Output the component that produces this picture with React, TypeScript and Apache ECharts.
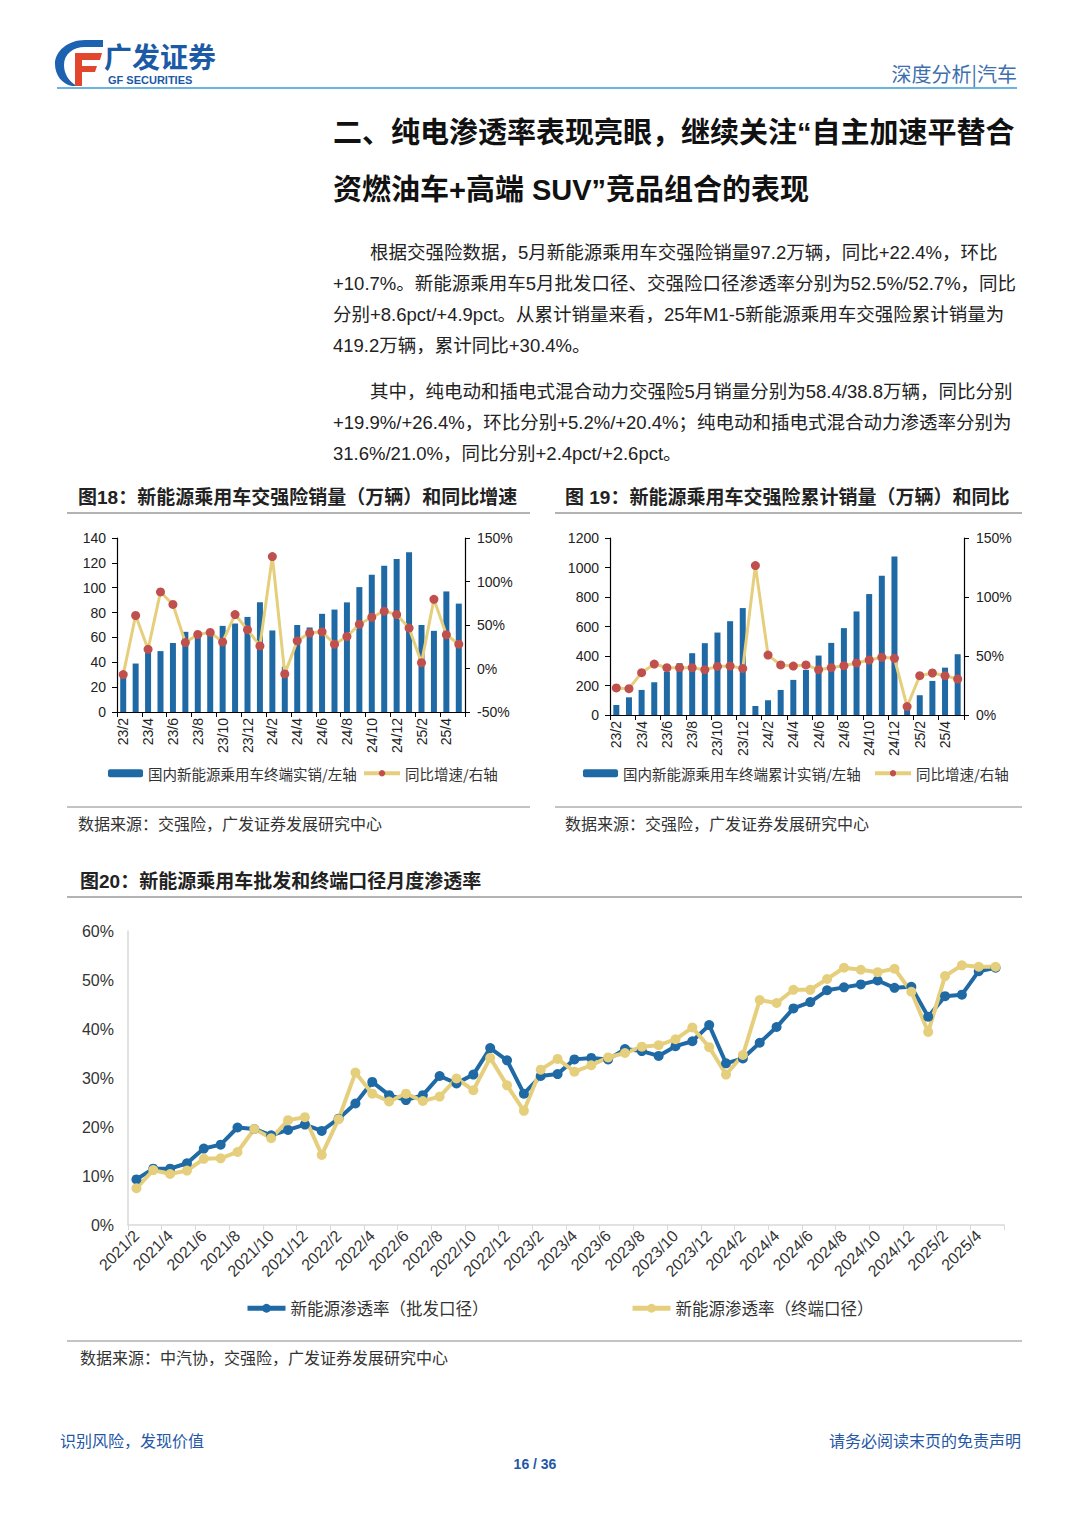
import React, { useEffect, useRef } from "react";
import * as echarts from "echarts";

// ---------- data ----------
const months18 = ["23/2","23/3","23/4","23/5","23/6","23/7","23/8","23/9","23/10","23/11","23/12","24/1","24/2","24/3","24/4","24/5","24/6","24/7","24/8","24/9","24/10","24/11","24/12","25/1","25/2","25/3","25/4","25/5"];
const sales18 = [30,39,48,49,55.5,64.5,62,63,69.3,71.2,76.5,88.3,65.6,36.5,70,68,79,82.4,88.2,100.5,110.4,117.6,123.2,128.5,70,65.3,97,87.2];
const yoy18 = [-7,60.9,22.1,88,73.6,29.8,39.1,41.5,30.6,62,44.6,26,128.7,-6.2,31.8,40.7,42.2,27.9,36.8,50.8,58.9,65.9,62,46.5,6.6,79.5,38.8,27.9];

const months19 = ["23/2","23/3","23/4","23/5","23/6","23/7","23/8","23/9","23/10","23/11","23/12","24/1","24/2","24/3","24/4","24/5","24/6","24/7","24/8","24/9","24/10","24/11","24/12","25/1","25/2","25/3","25/4","25/5"];
const cum19 = [68,120,170,222,294,351,419,487,559,636,725,61,100,170,238,306,403,489,589,702,820,944,1075,64,134,231,321,412];
const cumYoy19 = [22.9,22.3,35.9,43.2,40.1,40.1,40.1,38.4,41.2,41.5,39.5,126.6,50.8,42.4,41.5,42.4,38.4,40.1,41.8,44.1,46.6,48.9,48,7.1,33.3,35.6,33.3,30.5];

const months20 = ["2021/2","2021/3","2021/4","2021/5","2021/6","2021/7","2021/8","2021/9","2021/10","2021/11","2021/12",
  "2022/1","2022/2","2022/3","2022/4","2022/5","2022/6","2022/7","2022/8","2022/9","2022/10","2022/11","2022/12",
  "2023/1","2023/2","2023/3","2023/4","2023/5","2023/6","2023/7","2023/8","2023/9","2023/10","2023/11","2023/12",
  "2024/1","2024/2","2024/3","2024/4","2024/5","2024/6","2024/7","2024/8","2024/9","2024/10","2024/11","2024/12",
  "2025/1","2025/2","2025/3","2025/4","2025/5"];
const wholesale20 = [9.3,11.5,11.5,12.6,15.6,16.4,19.9,19.6,18.3,19.4,20.5,19.2,21.7,24.8,29.2,26.5,25.5,26.5,30.4,28.9,30.7,36.1,33.6,26.8,30.4,30.8,33.8,34.1,33.8,35.9,35.5,34.5,36.5,37.5,40.8,33,34,37.2,40.4,44.2,45.5,47.9,48.5,49.1,49.9,48.4,48.6,42.5,46.7,47,51.8,52.5];
const retail20 = [7.5,11.2,10.4,11.1,13.5,13.6,14.9,19.6,17.7,21.4,22,14.3,21.6,31.1,26.8,25.2,26.8,25.3,26.2,29.9,27.5,34.1,28.5,23.3,31.7,33.9,31.3,32.6,34.2,35.1,36.4,36.7,37.9,40.3,36.3,30.7,34.7,45.9,45.3,48,48,50.2,52.5,52.1,51.6,52.3,47.6,39.4,50.8,53,52.7,52.7];

const name18Bar = "国内新能源乘用车终端实销/左轴";
const name19Bar = "国内新能源乘用车终端累计实销/左轴";
const nameYoy = "同比增速/右轴";
const name20A = "新能源渗透率（批发口径）";
const name20B = "新能源渗透率（终端口径）";

const para1 = [
  "根据交强险数据，5月新能源乘用车交强险销量97.2万辆，同比+22.4%，环比",
  "+10.7%。新能源乘用车5月批发口径、交强险口径渗透率分别为52.5%/52.7%，同比",
  "分别+8.6pct/+4.9pct。从累计销量来看，25年M1-5新能源乘用车交强险累计销量为",
  "419.2万辆，累计同比+30.4%。",
];
const para2 = [
  "其中，纯电动和插电式混合动力交强险5月销量分别为58.4/38.8万辆，同比分别",
  "+19.9%/+26.4%，环比分别+5.2%/+20.4%；纯电动和插电式混合动力渗透率分别为",
  "31.6%/21.0%，同比分别+2.4pct/+2.6pct。",
];

// ---------- logo shapes ----------
const GF_BLUE_D = "M30 0 C13 0 0 11 0 24 C0 35 7 44 17 46 L22 46 C13 41 9 33 9 25 C9 14 18 7 30 7 L48 7 L48 0 Z";
const GF_RED_D = "M20 13 L47 13 L45 20 L27 20 L27 26 L42 26 L40 32 L27 32 L27 46 L20 46 Z";
echarts.graphic.registerShape("gfBlue", echarts.graphic.extendPath(GF_BLUE_D, {}));
echarts.graphic.registerShape("gfRed", echarts.graphic.extendPath(GF_RED_D, {}));

const CN = "'Noto Sans CJK SC', sans-serif";
const MIX = "'Liberation Sans', 'Noto Sans CJK SC', sans-serif";
const BLUE = "#1f6aa5";
const YEL = "#e6cf7c";
const RED = "#c0504d";

function txt(text: string, x: number, y: number, o: any = {}) {
  const align = o.align || "left";
  return {
    type: "text",
    x,
    y,
    silent: true,
    style: {
      text,
      fill: o.fill || "#222",
      fontSize: o.size || 16,
      fontWeight: o.weight || "normal",
      fontFamily: o.family || MIX,
      align,
      verticalAlign: "middle",
      textAlign: align,
      textVerticalAlign: "middle",
    },
  };
}
function hline(x1: number, x2: number, y: number, stroke: string, w = 1) {
  return { type: "line", silent: true, shape: { x1, y1: y, x2, y2: y }, style: { stroke, lineWidth: w } };
}

export default function App() {
  const ref = useRef<HTMLDivElement>(null);
  useEffect(() => {
    document.body.style.margin = "0";
    document.body.style.overflow = "hidden";
    if (!ref.current) return;
    const chart = echarts.init(ref.current, null, { renderer: "svg" });

    const axisBlack = { show: true, lineStyle: { color: "#000", width: 1.2 } };
    const catAxis = (gi: number, data: string[]) => ({
      gridIndex: gi,
      type: "category",
      data,
      boundaryGap: true,
      axisLine: { ...axisBlack, onZero: false },
      axisTick: { show: true, interval: 1, length: 5, lineStyle: { color: "#000" } },
      axisLabel: { interval: 1, rotate: 90, fontSize: 14, color: "#222", margin: 6, fontFamily: MIX },
      splitLine: { show: false },
    });
    const valAxis = (gi: number, pos: string, min: number, max: number, interval: number, pct: boolean) => ({
      gridIndex: gi,
      type: "value",
      position: pos,
      min,
      max,
      interval,
      axisLine: axisBlack,
      axisTick: { show: true, length: 5, lineStyle: { color: "#000" } },
      splitLine: { show: false },
      axisLabel: {
        fontSize: 14,
        color: "#222",
        margin: pos === "left" ? 11 : 12,
        fontFamily: MIX,
        formatter: (v: number) => (pct ? v + "%" : String(v)),
      },
    });

    const graphic: any[] = [
      { type: "gfBlue", x: 55, y: 40, silent: true, style: { fill: "#1d62b0" } },
      { type: "gfRed", x: 55, y: 40, silent: true, style: { fill: "#e2472d" } },
      txt("广发证券", 104, 56, { size: 28, weight: "bold", fill: "#1c5aa6", family: CN }),
      txt("GF SECURITIES", 108, 80, { size: 11, weight: "bold", fill: "#1c5aa6" }),
      txt("深度分析|汽车", 1017, 73, { size: 20, fill: "#3d6fae", family: CN, align: "right" }),
      hline(57, 1017, 88, "#3b9bd6", 1.5),

      txt("二、纯电渗透率表现亮眼，继续关注“自主加速平替合", 333, 133, { size: 29, weight: "bold", fill: "#111" }),
      txt("资燃油车+高端 SUV”竞品组合的表现", 333, 190, { size: 29, weight: "bold", fill: "#111" }),

      ...para1.map((s, i) => txt(s, i === 0 ? 370 : 333, 252 + i * 31, { size: 18.5, fill: "#222" })),
      ...para2.map((s, i) => txt(s, i === 0 ? 370 : 333, 391 + i * 31, { size: 18.5, fill: "#222" })),

      txt("图18：新能源乘用车交强险销量（万辆）和同比增速", 78, 497, { size: 19, weight: "bold", fill: "#222" }),
      hline(67, 530, 513, "#666", 1),
      txt("图 19：新能源乘用车交强险累计销量（万辆）和同比", 565, 497, { size: 19, weight: "bold", fill: "#222" }),
      hline(555, 1022, 513, "#666", 1),
      hline(67, 530, 807, "#888", 1),
      hline(555, 1022, 807, "#888", 1),
      txt("数据来源：交强险，广发证券发展研究中心", 78, 823, { size: 16, fill: "#333", family: CN }),
      txt("数据来源：交强险，广发证券发展研究中心", 565, 823, { size: 16, fill: "#333", family: CN }),

      txt("图20：新能源乘用车批发和终端口径月度渗透率", 80, 881, { size: 19, weight: "bold", fill: "#222" }),
      hline(67, 1022, 897, "#666", 1),
      hline(67, 1022, 1341, "#888", 1),
      txt("数据来源：中汽协，交强险，广发证券发展研究中心", 80, 1357, { size: 16, fill: "#333", family: CN }),

      txt("识别风险，发现价值", 60, 1440, { size: 16, fill: "#2557a7", family: CN }),
      txt("请务必阅读末页的免责声明", 1021, 1440, { size: 16, fill: "#2557a7", family: CN, align: "right" }),
      txt("16 / 36", 535, 1464, { size: 14, weight: "bold", fill: "#2557a7", align: "center" }),
    ];

    const legendBase = (name: string, left: number, top: number, w: number, h: number, fs: number, lw?: number) => {
      const l: any = {
        data: [name],
        left,
        top,
        itemWidth: w,
        itemHeight: h,
        itemGap: 0,
        padding: 0,
        selectedMode: false,
        textStyle: { fontSize: fs, color: "#333", fontFamily: CN },
      };
      if (lw) l.lineStyle = { width: lw };
      return l;
    };

    chart.setOption({
      animation: false,
      backgroundColor: "#fff",
      grid: [
        { left: 117, top: 538, width: 348, height: 174 },
        { left: 610, top: 538, width: 354, height: 177 },
        { left: 128, top: 931, width: 876, height: 294 },
      ],
      legend: [
        legendBase(name18Bar, 108, 766, 35, 8, 14.5),
        legendBase(nameYoy, 362, 766, 36, 8, 14.5, 4),
        legendBase(name19Bar, 583, 766, 35, 8, 14.5),
        legendBase(nameYoy, 873, 766, 36, 8, 14.5, 4),
        legendBase(name20A, 245, 1300, 38, 11, 16.5, 5),
        legendBase(name20B, 630, 1300, 38, 11, 16.5, 5),
      ],
      xAxis: [
        catAxis(0, months18),
        catAxis(1, months19),
        {
          gridIndex: 2,
          type: "category",
          data: months20,
          boundaryGap: true,
          axisLine: { show: true, onZero: false, lineStyle: { color: "#d9d9d9", width: 1.5 } },
          axisTick: { show: true, interval: 1, length: 5, lineStyle: { color: "#d9d9d9" } },
          axisLabel: { interval: 1, rotate: 45, fontSize: 16, color: "#333", margin: 8, fontFamily: MIX },
          splitLine: { show: false },
        },
      ],
      yAxis: [
        valAxis(0, "left", 0, 140, 20, false),
        valAxis(0, "right", -50, 150, 50, true),
        valAxis(1, "left", 0, 1200, 200, false),
        valAxis(1, "right", 0, 150, 50, true),
        {
          gridIndex: 2,
          type: "value",
          min: 0,
          max: 60,
          interval: 10,
          axisLine: { show: true, lineStyle: { color: "#d9d9d9", width: 1.5 } },
          axisTick: { show: false },
          splitLine: { show: false },
          axisLabel: { fontSize: 16, color: "#333", margin: 14, fontFamily: MIX, formatter: (v: number) => v + "%" },
        },
      ],
      series: [
        { name: name18Bar, type: "bar", xAxisIndex: 0, yAxisIndex: 0, data: sales18, barWidth: 6, itemStyle: { color: BLUE } },
        {
          name: nameYoy, type: "line", xAxisIndex: 0, yAxisIndex: 1, data: yoy18, showAllSymbol: true,
          symbol: "circle", symbolSize: 9, lineStyle: { color: YEL, width: 3 }, itemStyle: { color: RED }, z: 3,
        },
        { name: name19Bar, type: "bar", xAxisIndex: 1, yAxisIndex: 2, data: cum19, barWidth: 6, itemStyle: { color: BLUE } },
        {
          name: nameYoy, type: "line", xAxisIndex: 1, yAxisIndex: 3, data: cumYoy19, showAllSymbol: true,
          symbol: "circle", symbolSize: 9, lineStyle: { color: YEL, width: 3 }, itemStyle: { color: RED }, z: 3,
        },
        {
          name: name20A, type: "line", xAxisIndex: 2, yAxisIndex: 4, data: wholesale20, showAllSymbol: true,
          symbol: "circle", symbolSize: 10, lineStyle: { color: BLUE, width: 4 }, itemStyle: { color: BLUE },
        },
        {
          name: name20B, type: "line", xAxisIndex: 2, yAxisIndex: 4, data: retail20, showAllSymbol: true,
          symbol: "circle", symbolSize: 10, lineStyle: { color: YEL, width: 4 }, itemStyle: { color: YEL },
        },
      ],
      graphic,
    });

    return () => chart.dispose();
  }, []);

  return (
    <div
      ref={ref}
      style={{ position: "absolute", left: 0, top: 0, width: 1080, height: 1527, background: "#fff" }}
    />
  );
}
